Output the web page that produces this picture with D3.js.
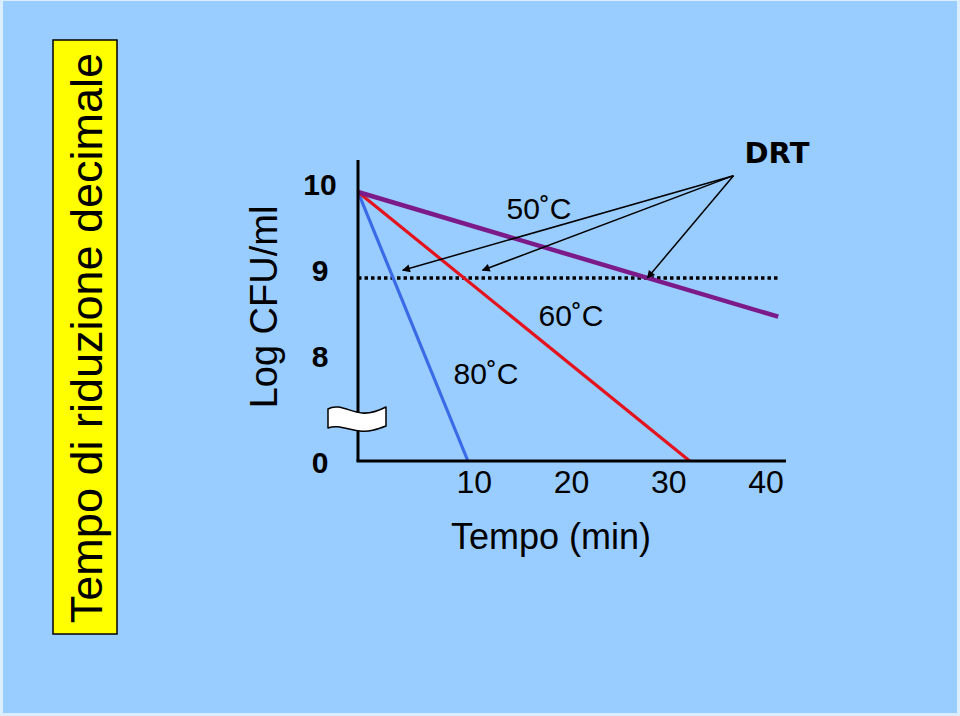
<!DOCTYPE html>
<html>
<head>
<meta charset="utf-8">
<script src="https://cdnjs.cloudflare.com/ajax/libs/d3/7.8.5/d3.min.js"></script>
<style>
  body { margin: 0; background: #dbeeff; }
  svg { display: block; }
</style>
</head>
<body>
<div id="chart"></div>
<script>
// --- data ---
const yTicks = [0, 8, 9, 10];
const xTicks = [10, 20, 30, 40];

// each curve: [time (min), log CFU/ml]
const curve80 = [[0, 10], [11.3, 0]];
const curve60 = [[0, 10], [34.1, 0]];
const curve50 = [[0, 10], [43.2, 8.55]];
const drtLevel = [[0, 9], [43.2, 9]];

const curveNames = ["80˚C", "60˚C", "50˚C"];
const curveColors = ["#3a6ae6", "#e3141e", "#7d1a8a"];

// DRT annotation: from label point to each target
const drtFrom = [38.6, 10.19];
const drtTargets = [[4.6, 9.09], [12.8, 9.09], [29.75, 9.0]];

const width = 960, height = 716;

const svg = d3.select("#chart").append("svg")
    .attr("width", width)
    .attr("height", height);

// slide background
svg.append("rect")
    .attr("x", 3).attr("y", 1)
    .attr("width", 954).attr("height", 712)
    .attr("fill", "#99ccff");

// yellow title box
svg.append("rect")
    .attr("x", 53).attr("y", 40)
    .attr("width", 64).attr("height", 594)
    .attr("fill", "#ffff00")
    .attr("stroke", "#000")
    .attr("stroke-width", 1.5);

svg.append("text")
    .attr("transform", "translate(102,338) rotate(-90)")
    .attr("text-anchor", "middle")
    .style("font-family", "'Liberation Sans', Arial, sans-serif")
    .style("font-size", "45px")
    .text("Tempo di riduzione decimale");

// scales (y is broken between 0 and ~7.5)
let x = d3.scaleLinear().domain([0, 44]).range([358, 786]);
let y = d3.scaleLinear().domain([0, 7.5, 10]).range([461, 407, 192]);

let line = d3.line()
    .x(d => x(d[0]))
    .y(d => y(d[1]));

// arrow marker
svg.append("defs").append("marker")
    .attr("id", "arrow")
    .attr("viewBox", "0 0 10 10")
    .attr("refX", 9).attr("refY", 5)
    .attr("markerWidth", 10).attr("markerHeight", 8)
    .attr("markerUnits", "userSpaceOnUse")
    .attr("orient", "auto")
    .append("path")
    .attr("d", "M0,0 L10,5 L0,10 Z")
    .attr("fill", "#000");

// dotted DRT level
svg.append("path")
    .attr("d", line(drtLevel))
    .attr("fill", "none")
    .attr("stroke", "#000")
    .attr("stroke-width", 3.5)
    .attr("stroke-dasharray", "3.5,3");

// curves
[curve80, curve60, curve50].forEach((c, i) => {
    svg.append("path")
        .attr("d", line(c))
        .attr("fill", "none")
        .attr("stroke", curveColors[i])
        .attr("stroke-width", i === 2 ? 4.5 : 3.2);
});

// axes (lines only, labels added below)
svg.append("line")
    .attr("x1", x(0)).attr("x2", x(0))
    .attr("y1", 160).attr("y2", y(0))
    .attr("stroke", "#000").attr("stroke-width", 3);

svg.append("line")
    .attr("x1", x(0) - 1.5).attr("x2", x(44))
    .attr("y1", y(0)).attr("y2", y(0))
    .attr("stroke", "#000").attr("stroke-width", 3);

// axis break symbol
svg.append("path")
    .attr("d", "M-30,-9 C-20,-15 -8,-6 4,-5 C14,-4 22,-8 28,-11 L28,8 C20,11 12,14 2,13 C-10,12 -20,6 -30,10 Z")
    .attr("transform", "translate(" + x(0) + "," + (y(7.5) + 11) + ")")
    .attr("fill", "#fff")
    .attr("stroke", "#000")
    .attr("stroke-width", 1.5)
    .attr("stroke-linejoin", "round");

// y tick labels
svg.selectAll(".ytick")
    .data(yTicks)
    .enter().append("text")
    .attr("class", "ytick")
    .attr("x", 320)
    .attr("y", d => y(d) + (d === 0 ? 12 : 3))
    .attr("text-anchor", "middle")
    .style("font-family", "'Liberation Sans', Arial, sans-serif")
    .style("font-weight", "bold")
    .style("font-size", "30px")
    .text(d => d);

// x tick labels (slide places them to the right of the tick)
svg.selectAll(".xtick")
    .data(xTicks)
    .enter().append("text")
    .attr("class", "xtick")
    .attr("x", d => x(d) + 19)
    .attr("y", 493)
    .attr("text-anchor", "middle")
    .style("font-family", "'Liberation Sans', Arial, sans-serif")
    .style("font-size", "32px")
    .text(d => d);

// axis titles
svg.append("text")
    .attr("x", 551).attr("y", 549)
    .attr("text-anchor", "middle")
    .style("font-family", "'Liberation Sans', Arial, sans-serif")
    .style("font-size", "36px")
    .text("Tempo (min)");

svg.append("text")
    .attr("transform", "translate(277,307) rotate(-90)")
    .attr("text-anchor", "middle")
    .style("font-family", "'Liberation Sans', Arial, sans-serif")
    .style("font-size", "38px")
    .text("Log CFU/ml");

// curve labels
const labelPos = [[486, 384], [571, 326], [539, 219]];
curveNames.forEach((n, i) => {
    svg.append("text")
        .attr("x", labelPos[i][0]).attr("y", labelPos[i][1])
        .attr("text-anchor", "middle")
        .style("font-family", "'Liberation Sans', Arial, sans-serif")
        .style("font-size", "30px")
        .text(n);
});

// DRT label and arrows
svg.append("text")
    .attr("x", 777).attr("y", 163)
    .attr("text-anchor", "middle")
    .style("font-family", "'DejaVu Sans', Verdana, sans-serif")
    .style("font-weight", "bold")
    .style("font-size", "29px")
    .text("DRT");

drtTargets.forEach(t => {
    svg.append("line")
        .attr("x1", x(drtFrom[0])).attr("y1", y(drtFrom[1]))
        .attr("x2", x(t[0])).attr("y2", y(t[1]))
        .attr("stroke", "#000")
        .attr("stroke-width", 1.5)
        .attr("marker-end", "url(#arrow)");
});
</script>
</body>
</html>
